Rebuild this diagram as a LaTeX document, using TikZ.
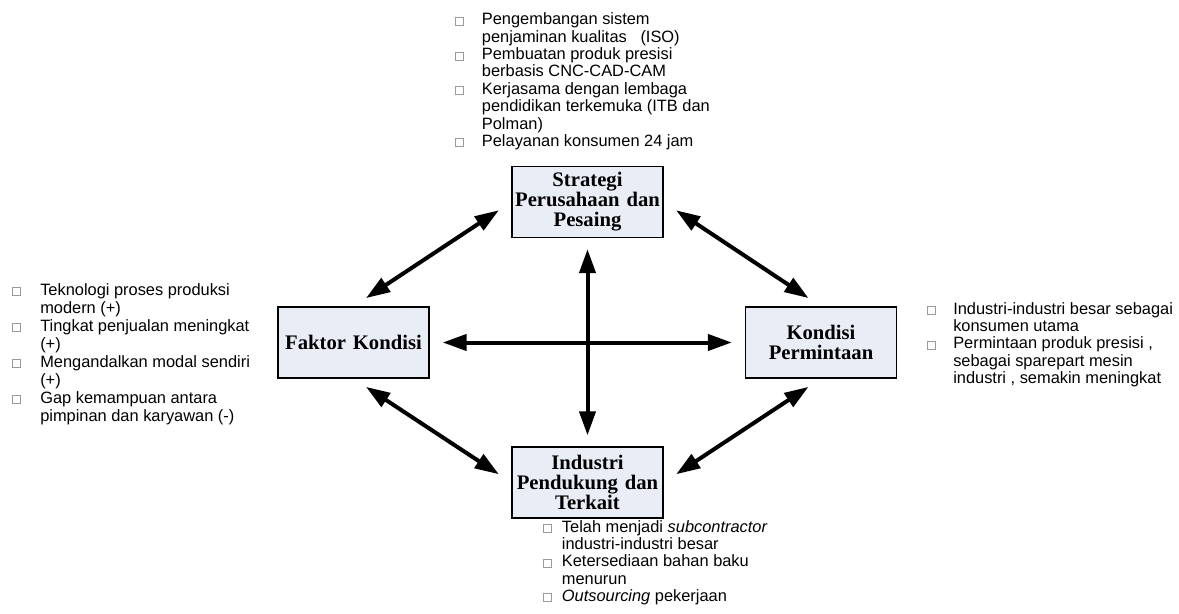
\documentclass[tikz,border=0pt]{standalone}
\usepackage{fontspec}
\usetikzlibrary{arrows.meta}
\newfontfamily\listfont{Liberation Sans}
\newfontfamily\boxfont{Liberation Serif}
\definecolor{boxfill}{HTML}{E9EEF6}
\definecolor{bulletgray}{HTML}{9A9A9A}
\newlength\bulw
\newcommand{\sqb}{\makebox[\bulw][l]{\textcolor{bulletgray}{\fboxsep=0pt\fboxrule=0.5pt\fbox{\rule{0pt}{5.5pt}\hspace{5.5pt}}}}}
\begin{document}
\begin{tikzpicture}[x=0.75pt,y=-0.75pt,
  factor/.style={draw=black, line width=1.2pt, fill=boxfill, minimum width=113pt, minimum height=53pt,
    text width=112pt, align=center, inner sep=0.5pt, font=\boxfont\bfseries\fontsize{15.5}{15}\selectfont},
  dbl/.style={line width=3pt, {Triangle[length=18pt,width=12pt]}-{Triangle[length=18pt,width=12pt]}},
  blist/.style={anchor=base west, inner sep=0pt, font=\listfont\fontsize{12.3}{13}\selectfont}]
\useasboundingbox (0,0) rectangle (1179,614);

% boxes
\node[factor] (S) at (587.5,202) {Strategi\\Perusahaan dan\\Pesaing};
\node[factor] (F) at (353.5,342.5) {Faktor Kondisi};
\node[factor] (K) at (821,342.5) {Kondisi\\Permintaan};
\node[factor] (I) at (587.5,482.5) {Industri\\Pendukung dan\\Terkait};

% arrows
\draw[dbl, shorten <=9.75pt, shorten >=9.75pt] (F.east) -- (K.west);
\draw[dbl, shorten <=8.25pt, shorten >=8.25pt] (S.south) -- (I.north);
\draw[dbl, shorten <=11.25pt, shorten >=11.25pt] (S.west) -- (F.north);
\draw[dbl, shorten <=11.25pt, shorten >=11.25pt] (S.east) -- (K.north);
\draw[dbl, shorten <=11.25pt, shorten >=11.25pt] (F.south) -- (I.west);
\draw[dbl, shorten <=11.25pt, shorten >=11.25pt] (I.east) -- (K.south);

% lists
\node[blist] (tl) at (455,25) {\setlength\bulw{20pt}\begin{tabular}[t]{@{}l@{}l@{}}
\sqb & Pengembangan sistem\\
 & penjaminan kualitas\ \ \ (ISO)\\
\sqb & Pembuatan produk presisi\\
 & berbasis CNC-CAD-CAM\\
\sqb & Kerjasama dengan lembaga\\
 & pendidikan terkemuka\ (ITB dan\\
 & Polman)\\
\sqb & Pelayanan konsumen\ 24 jam
\end{tabular}};

\node[blist, font=\listfont\fontsize{12.3}{13.5}\selectfont] (ll) at (12,295) {\setlength\bulw{21pt}\begin{tabular}[t]{@{}l@{}l@{}}
\sqb & Teknologi proses produksi\\
 & modern (+)\\
\sqb & Tingkat penjualan meningkat\\
 & (+)\\
\sqb & Mengandalkan modal sendiri\\
 & (+)\\
\sqb & Gap kemampuan antara\\
 & pimpinan dan karyawan\ (-)
\end{tabular}};

\node[blist] (rl) at (927,314) {\setlength\bulw{19.5pt}\begin{tabular}[t]{@{}l@{}l@{}}
\sqb & Industri-industri besar sebagai\\
 & konsumen utama\\
\sqb & Permintaan produk presisi ,\\
 & sebagai sparepart mesin\\
 & industri , semakin meningkat
\end{tabular}};

\node[blist] (bl) at (543,532) {\setlength\bulw{14pt}\begin{tabular}[t]{@{}l@{}l@{}}
\sqb & Telah menjadi \textit{subcontractor}\\
 & industri-industri besar\\
\sqb & Ketersediaan bahan baku\\
 & menurun\\
\sqb & \textit{Outsourcing} pekerjaan
\end{tabular}};
\end{tikzpicture}
\end{document}
